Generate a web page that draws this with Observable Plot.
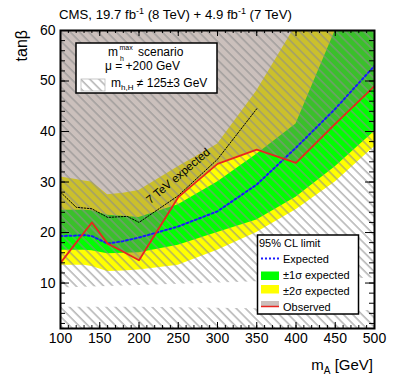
<!DOCTYPE html>
<html><head><meta charset="utf-8">
<script src="https://cdn.jsdelivr.net/npm/d3@7"></script>
<script src="https://cdn.jsdelivr.net/npm/@observablehq/plot@0.6"></script>
<style>body{margin:0;background:#fff}</style>
</head><body><div id="chart"></div>
<script>
// ---- data ----
const mA      = [100, 120, 130, 140, 160, 180, 200, 250, 300, 350, 400, 450, 500];
const observed= [14.0, 18.0, 20.0, 22.0, 17.8, 16.2, 14.5, 27.0, 33.6, 36.4, 33.8, 41.5, 49.0];
const obsFillLow=[19.5, 19.5, 19.5, 19.3, 17.8, 16.2, 14.5, 27.0, 33.6, 36.4, 33.8, 41.5, 49.0];
const expected= [19.3, 19.4, 19.5, 19.3, 17.8, 18.3, 19.0, 21.2, 24.2, 29.5, 36.8, 44.5, 53.0];
const plus2   = [31.0, 30.5, 30.2, 30.0, 27.5, 27.8, 28.3, 33.0, 37.5, 48.0, 61.0, 70.0, 80.0];
const plus1   = [24.4, 24.4, 24.4, 24.3, 23.4, 23.2, 23.0, 25.5, 30.0, 35.5, 41.5, 60.0, 70.0];
const minus1  = [16.5, 16.5, 16.5, 16.4, 15.8, 15.9, 16.0, 17.5, 20.0, 22.5, 27.0, 33.0, 40.0];
const minus2  = [13.5, 13.5, 13.5, 13.3, 12.3, 12.4, 12.6, 13.5, 16.5, 20.0, 24.5, 30.0, 37.0];
const mA7     = [100, 120, 140, 160, 185, 200, 250, 300, 350];
const exp7TeV = [28.0, 25.0, 24.7, 23.0, 23.2, 22.0, 27.3, 34.5, 44.5];
const mAh     = [100, 200, 300, 400, 500];
const hatchHi = [9.0, 9.5, 10.0, 10.5, 11.0];
const hatchLo = [5.2, 5.2, 5.0, 4.8, 4.5];
const xMajor = [100,150,200,250,300,350,400,450,500];
const xMinor = d3.range(100, 501, 10);
const yMajor = [10,20,30,40,50,60];
const yMinor = d3.range(2, 61, 2);

const rows = mA.map((m,i)=>({m, obs:observed[i], ofl:obsFillLow[i], exp:expected[i], p2:plus2[i], p1:plus1[i], m1:minus1[i], m2:minus2[i]}));
const rows7 = mA7.map((m,i)=>({m, t:exp7TeV[i]}));
const hrows = mAh.map((m,i)=>({m, hi:hatchHi[i], lo:hatchLo[i]}));

const W=399, H=379, mt=30, mr=25, mb=51, ml=60;
const iw=W-ml-mr, ih=H-mt-mb;
const FONT='"Liberation Sans", Arial, Helvetica, sans-serif';

const chart = Plot.plot({
  width:W, height:H, marginTop:mt, marginRight:mr, marginBottom:mb, marginLeft:ml,
  x:{domain:[100,500]}, y:{domain:[1,60]},
  style:{fontFamily:FONT, background:"white", color:"black"},
  marks:[
    Plot.areaY(rows,{x:"m", y1:"m2", y2:"p2", fill:"#ffff00", clip:true}),
    Plot.areaY(rows,{x:"m", y1:"m1", y2:"p1", fill:"#00ff00", clip:true}),
    Plot.areaY(rows,{x:"m", y1:"ofl", y2:()=>80, fill:"rgb(135,109,100)", fillOpacity:0.43, clip:true}),
    Plot.areaY(hrows,{x:"m", y1:()=>0, y2:"lo", fill:"url(#hatch)", clip:true}),
    Plot.areaY(hrows,{x:"m", y1:"hi", y2:()=>80, fill:"url(#hatch)", clip:true}),
    Plot.line(rows7,{x:"m", y:"t", stroke:"black", strokeWidth:1, strokeDasharray:"1.5,1.5", clip:true}),
    Plot.line(rows,{x:"m", y:"exp", stroke:"#1a1aff", strokeWidth:2, strokeDasharray:"2,2.5", clip:true}),
    Plot.line(rows,{x:"m", y:"obs", stroke:"#e8251f", strokeWidth:1.8, clip:true}),
    Plot.text(["7 TeV expected"],{x:()=>250, y:()=>31.2, text:d=>d, rotate:-40, fontSize:11.5, fill:"black"}),
    // inward ticks
    Plot.tickX(xMinor,{x:d=>d, insetTop:ih-3, stroke:"black"}),
    Plot.tickX(xMajor,{x:d=>d, insetTop:ih-6, stroke:"black"}),
    Plot.tickX(xMinor,{x:d=>d, insetBottom:ih-3, stroke:"black"}),
    Plot.tickX(xMajor,{x:d=>d, insetBottom:ih-6, stroke:"black"}),
    Plot.tickY(yMinor,{y:d=>d, insetRight:iw-5, stroke:"black"}),
    Plot.tickY(yMajor,{y:d=>d, insetRight:iw-9, stroke:"black"}),
    Plot.tickY(yMinor,{y:d=>d, insetLeft:iw-5, stroke:"black"}),
    Plot.tickY(yMajor,{y:d=>d, insetLeft:iw-9, stroke:"black"}),
    Plot.frame({stroke:"black", strokeWidth:2}),
    Plot.axisX({ticks:xMajor, tickSize:0, tickPadding:5, fontSize:14, label:null, anchor:"bottom"}),
    Plot.axisY({ticks:yMajor, tickSize:0, tickPadding:5, fontSize:14, label:null, anchor:"left"})
  ]
});

const svg = d3.select(chart);
const defs = svg.insert("defs", ":first-child");
const pat = defs.append("pattern").attr("id","hatch").attr("patternUnits","userSpaceOnUse")
  .attr("width",6.5).attr("height",10).attr("patternTransform","rotate(-45)");
pat.append("line").attr("x1",1).attr("y1",0).attr("x2",1).attr("y2",10)
  .attr("stroke","#8c8c8c").attr("stroke-width",1);

const ann = svg.append("g").attr("font-family",FONT).attr("text-anchor","start").attr("fill","black");

// title
const title = ann.append("text").attr("x",59).attr("y",19).attr("font-size",13.2);
title.append("tspan").text("CMS, 19.7 fb");
title.append("tspan").attr("font-size",9).attr("dy",-5).text("-1");
title.append("tspan").attr("dy",5).text(" (8 TeV) + 4.9 fb");
title.append("tspan").attr("font-size",9).attr("dy",-5).text("-1");
title.append("tspan").attr("dy",5).text(" (7 TeV)");

// axis titles
const xt = ann.append("text").attr("x",373).attr("y",370).attr("text-anchor","end").attr("font-size",15);
xt.append("tspan").text("m");
xt.append("tspan").attr("font-size",10).attr("dy",4).text("A");
xt.append("tspan").attr("dy",-4).text(" [GeV]");
ann.append("text").attr("transform","translate(27,30) rotate(-90)").attr("text-anchor","end")
  .attr("font-size",16).text("tanβ");

// legend 1
const g1 = ann.append("g").attr("font-size",12);
g1.append("rect").attr("x",76).attr("y",43).attr("width",141).attr("height",50).attr("fill","white").attr("stroke","black").attr("stroke-width",1.5);
const l1 = g1.append("text").attr("x",108).attr("y",56);
l1.append("tspan").text("m");
l1.append("tspan").attr("x",119.5).attr("font-size",7).attr("dy",-6).text("max");
l1.append("tspan").attr("x",120).attr("font-size",7).attr("dy",11).text("h");
l1.append("tspan").attr("x",138).attr("dy",-5).text("scenario");
g1.append("text").attr("x",105).attr("y",69.5).text("μ = +200 GeV");
g1.append("rect").attr("x",81).attr("y",79).attr("width",24).attr("height",12).attr("fill","url(#hatch)").attr("stroke","#bbb").attr("stroke-width",0.8);
const l3 = g1.append("text").attr("x",111).attr("y",87);
l3.append("tspan").text("m");
l3.append("tspan").attr("font-size",8).attr("dy",3).text("h,H");
l3.append("tspan").attr("dy",-3).text(" ≠ 125±3 GeV");

// legend 2
const g2 = ann.append("g").attr("font-size",11);
g2.append("rect").attr("x",257.5).attr("y",235).attr("width",101).attr("height",79).attr("fill","white").attr("stroke","black").attr("stroke-width",1.5);
g2.append("text").attr("x",259).attr("y",246.5).text("95% CL limit");
g2.append("line").attr("x1",261).attr("x2",279).attr("y1",258.5).attr("y2",258.5).attr("stroke","#1a1aff").attr("stroke-width",2).attr("stroke-dasharray","2,2");
g2.append("text").attr("x",283).attr("y",262.5).text("Expected");
g2.append("rect").attr("x",261).attr("y",271.5).attr("width",18).attr("height",8.5).attr("fill","#00ff00");
g2.append("text").attr("x",283).attr("y",278.5).text("±1σ expected");
g2.append("rect").attr("x",261).attr("y",285).attr("width",18).attr("height",8.5).attr("fill","#ffff00");
g2.append("text").attr("x",283).attr("y",294.5).text("±2σ expected");
g2.append("rect").attr("x",261).attr("y",301).attr("width",18).attr("height",6).attr("fill","#cbbfbb");
g2.append("line").attr("x1",261).attr("x2",279).attr("y1",306.5).attr("y2",306.5).attr("stroke","#e8251f").attr("stroke-width",1.5);
g2.append("text").attr("x",283).attr("y",310.5).text("Observed");

document.getElementById("chart").appendChild(chart);
</script>
</body></html>
